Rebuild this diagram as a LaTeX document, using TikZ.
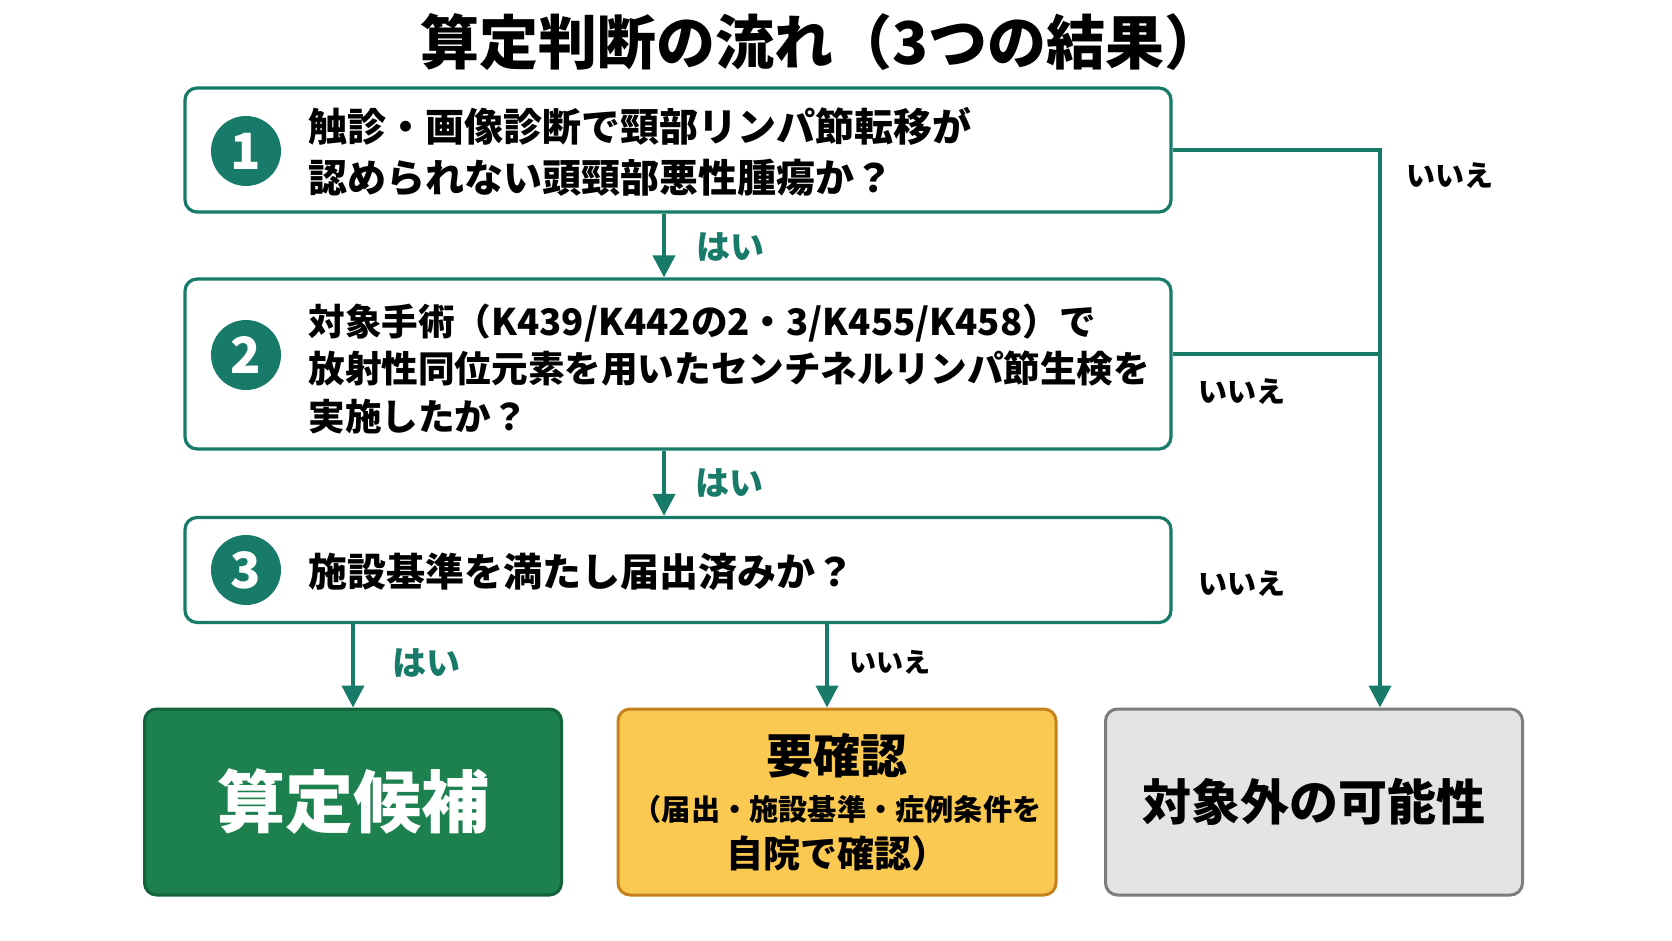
\documentclass[tikz,border=0pt]{standalone}
\usepackage{fontspec}
\setmainfont{Noto Sans CJK JP}
\usepackage{tikz}
\usetikzlibrary{arrows.meta,shapes}
\definecolor{flowteal}{RGB}{24,122,104}
\definecolor{okgreen}{RGB}{29,128,79}
\definecolor{okgreenline}{RGB}{18,98,58}
\definecolor{checkfill}{RGB}{250,201,82}
\definecolor{checkline}{RGB}{198,128,28}
\definecolor{outfill}{RGB}{228,228,228}
\definecolor{greyline}{RGB}{125,125,125}
\tikzstyle{qbox}=[draw=flowteal,line width=1.6pt,rounded corners=6pt,fill=white,inner sep=0pt,minimum width=493pt]
\tikzstyle{num}=[circle,fill=flowteal,text=white,minimum size=35pt,inner sep=0pt,font=\bfseries\fontsize{25}{25}\selectfont]
\tikzstyle{qtext}=[anchor=west,align=left,inner sep=0pt,font=\bfseries\fontsize{19.5}{25.5}\selectfont]
\tikzstyle{yeslabel}=[text=flowteal,inner sep=0pt,font=\bfseries\fontsize{17}{17}\selectfont]
\tikzstyle{nolabel}=[inner sep=0pt,font=\bfseries\fontsize{14.5}{14.5}\selectfont]
\tikzstyle{result}=[rounded corners=6pt,line width=1.5pt,minimum height=93pt,inner sep=0pt,align=center]
\tikzstyle{edge} = [draw=flowteal,line width=2pt,-{Triangle[width=11pt,length=11pt]}]

\begin{document}
\begin{tikzpicture}[x=0.5pt,y=-0.5pt]
      \useasboundingbox (0,0) rectangle (1672,941);
      \node[font=\bfseries\fontsize{29.5}{29.5}\selectfont] (title) at (822,42) {算定判断の流れ（3つの結果）};
      % questions
      \node[qbox,minimum height=62pt] (q1) at (678,150) {};
      \node[qbox,minimum height=85pt] (q2) at (678,364) {};
      \node[qbox,minimum height=52.5pt] (q3) at (678,570) {};
      \node[num] (n1) at (246,151) {1};
      \node[num] (n2) at (246,355) {2};
      \node[num] (n3) at (246,570) {3};
      \node[qtext] (t1) at (308,152) {触診・画像診断で頸部リンパ節転移が\\認められない頭頸部悪性腫瘍か？};
      \node[qtext,font=\bfseries\fontsize{18.3}{23.75}\selectfont] (t2) at (308,369)
        {対象手術（K439/K442の2・3/K455/K458）で\\放射性同位元素を用いたセンチネルリンパ節生検を\\実施したか？};
      \node[qtext] (t3) at (308,572) {施設基準を満たし届出済みか？};
      % results
      \node[result,fill=okgreen,draw=okgreenline,minimum width=208.5pt,text=white,
        font=\bfseries\fontsize{34}{34}\selectfont] (r1) at (353,802) {算定候補};
      \node[result,fill=checkfill,draw=checkline,minimum width=219pt,
        font=\bfseries\fontsize{14.6}{23.5}\selectfont] (r2) at (837,802)
        {{\fontsize{23.5}{23.5}\selectfont 要確認}\\（届出・施設基準・症例条件を\\{\fontsize{18.5}{18.5}\selectfont 自院で確認）}};
      \node[result,fill=outfill,draw=greyline,minimum width=208.5pt,
        font=\bfseries\fontsize{24.5}{24.5}\selectfont] (r3) at (1314,802) {対象外の可能性};
      \coordinate (out) at (1380,0);
      \coordinate (c2) at ([xshift=-5pt]r2.north);
      % connectors
      \draw[edge] ([xshift=-7pt]q1.south) -- ([xshift=-7pt]q2.north);
      \draw[edge] ([xshift=-7pt]q2.south) -- ([xshift=-7pt]q3.north);
      \draw[edge] (q3.south -| r1.north) -- (r1.north);
      \draw[edge] (q3.south -| c2) -- (c2);
      \draw[edge] (q1.east) -| (r3.north -| out);
      \draw[draw=flowteal,line width=2pt] ([yshift=5pt]q2.east) -- ([yshift=5pt]q2.east -| out);
      % labels
      \node[yeslabel] (y1) at (730,247) {はい};
      \node[yeslabel] (y2) at (729,483) {はい};
      \node[yeslabel] (y3) at (426,663) {はい};
      \node[nolabel] (no1) at (1450,176) {いいえ};
      \node[nolabel] (no2) at (1242,392) {いいえ};
      \node[nolabel] (no3) at (1242,584) {いいえ};
      \node[nolabel,font=\bfseries\fontsize{13.5}{13.5}\selectfont] (no4) at (890,662) {いいえ};
    \end{tikzpicture}
\end{document}
